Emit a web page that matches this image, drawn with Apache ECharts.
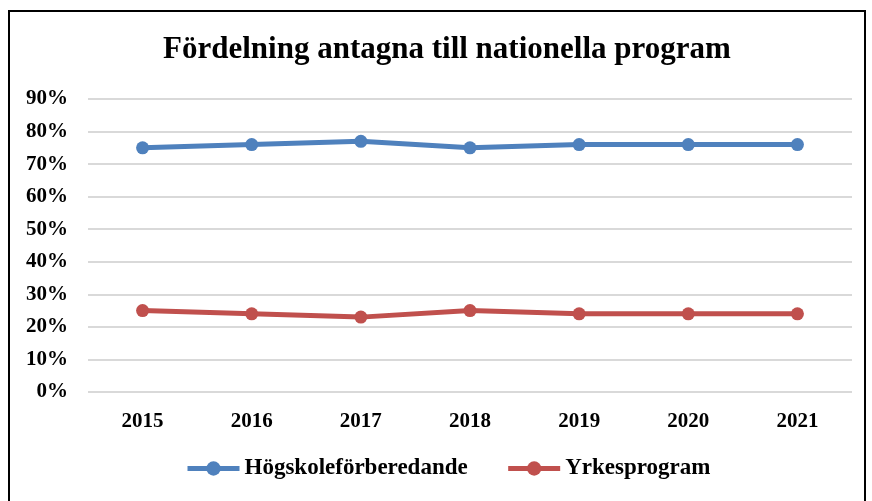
<!DOCTYPE html>
<html>
<head>
<meta charset="utf-8">
<script src="https://cdn.jsdelivr.net/npm/echarts@6/dist/echarts.min.js"></script>
<style>
html, body { margin: 0; padding: 0; background: #fff; }
#frame { position: absolute; left: 8px; top: 10px; width: 858px; height: 500px; border: 2px solid #000; border-bottom: none; box-sizing: border-box; }
#box { position: absolute; left: 0; top: 0; width: 872px; height: 501px; }
</style>
</head>
<body>
<div id="frame"></div>
<div id="box"></div>
<script>
var years = ['2015', '2016', '2017', '2018', '2019', '2020', '2021'];
var hogskole = [75, 76, 77, 75, 76, 76, 76];
var yrke = [25, 24, 23, 25, 24, 24, 24];
var yTicks = [0, 10, 20, 30, 40, 50, 60, 70, 80, 90];

var font = '"Liberation Serif", serif';
var myChart = echarts.init(document.getElementById('box'));

var option = {
    backgroundColor: 'transparent',
    animation: false,
    title: {
        text: 'Fördelning antagna till nationella program',
        left: 158,
        top: 29,
        textStyle: { fontFamily: font, fontWeight: 'bold', fontSize: 31, color: '#000' }
    },
    legend: {
        left: 180,
        bottom: 16,
        itemGap: 38,
        itemWidth: 52,
        itemHeight: 18,
        lineStyle: { width: 5 },
        textStyle: { fontFamily: font, fontWeight: 'bold', fontSize: 23, color: '#000' },
        data: ['Högskoleförberedande', 'Yrkesprogram']
    },
    grid: { left: 88, right: 20, top: 99, bottom: 109, containLabel: false },
    xAxis: {
        type: 'category',
        data: years,
        boundaryGap: true,
        axisTick: { show: false },
        axisLine: { show: false },
        axisLabel: { fontFamily: font, fontWeight: 'bold', fontSize: 21, color: '#000', margin: 19 }
    },
    yAxis: {
        type: 'value',
        min: yTicks[0],
        max: yTicks[yTicks.length - 1],
        interval: 10,
        axisLine: { show: false },
        axisTick: { show: false },
        splitLine: { lineStyle: { color: '#d9d9d9', width: 2 } },
        axisLabel: {
            fontFamily: font, fontWeight: 'bold', fontSize: 21, color: '#000', margin: 20,
            formatter: function (v) { return v + '%'; }
        }
    },
    series: [{
        name: 'Högskoleförberedande',
        type: 'line',
        data: hogskole,
        symbol: 'circle',
        symbolSize: 13,
        color: '#4F81BD',
        lineStyle: { width: 5 }
    }, {
        name: 'Yrkesprogram',
        type: 'line',
        data: yrke,
        symbol: 'circle',
        symbolSize: 13,
        color: '#C0504D',
        lineStyle: { width: 5 }
    }]
};
myChart.setOption(option);
</script>
</body>
</html>
